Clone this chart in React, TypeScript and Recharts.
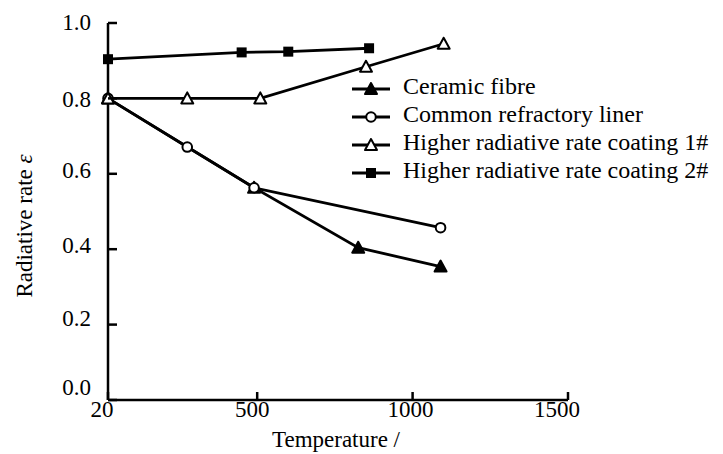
import React from "react";
import { Line, LineChart, XAxis, YAxis } from "recharts";

const FONT = "'Liberation Serif', serif";

// temperature ticks and emissivity ticks
const tempTicks = [20, 500, 1000, 1500];
const rateTicks = [0, 0.2, 0.4, 0.6, 0.8, 1.0];

const ceramicT = [20, 490, 825, 1090];
const ceramicE = [0.8, 0.563, 0.404, 0.354];

const commonT = [20, 275, 490, 1090];
const commonE = [0.8, 0.671, 0.563, 0.457];

const coat1T = [20, 275, 510, 850, 1100];
const coat1E = [0.8, 0.8, 0.8, 0.884, 0.945];

const coat2T = [20, 450, 600, 860];
const coat2E = [0.904, 0.922, 0.924, 0.933];

const seriesNames = [
  "Ceramic fibre",
  "Common refractory liner",
  "Higher radiative rate coating 1#",
  "Higher radiative rate coating 2#",
];

const toRows = (t: number[], e: number[]) => t.map((v, i) => ({ t: v, e: e[i] }));

// scanned-figure label offsets (the originals sit a little off their ticks)
const xTickDx = [-6, -5, -2, -11];
const yTickDy = [-12.5, -6.5, -3.5, -3.5, 1.5, -0.5];

type Shape = "triFilled" | "circleOpen" | "triOpen" | "squareFilled";
const shapes: Shape[] = ["triFilled", "circleOpen", "triOpen", "squareFilled"];

function Marker({ cx, cy, shape }: { cx: number; cy: number; shape: Shape }) {
  if (shape === "circleOpen")
    return <circle cx={cx} cy={cy} r={4.8} fill="#fff" stroke="#000" strokeWidth={2} />;
  if (shape === "squareFilled")
    return <rect x={cx - 5} y={cy - 5} width={10} height={10} fill="#000" />;
  const pts = `${cx - 6},${cy + 5} ${cx + 6},${cy + 5} ${cx},${cy - 6}`;
  return (
    <polygon
      points={pts}
      fill={shape === "triFilled" ? "#000" : "#fff"}
      stroke="#000"
      strokeWidth={2}
      strokeLinejoin="round"
    />
  );
}

const dotFor = (shape: Shape) => (p: any) =>
  <Marker key={`d-${shape}-${p.index}`} cx={p.cx} cy={p.cy} shape={shape} />;

function XTick(props: any) {
  const { x, y, payload, index } = props;
  return (
    <g>
      <line x1={x} x2={x} y1={y} y2={y - 8} stroke="#000" strokeWidth={2.5} />
      <text x={x + (xTickDx[index] ?? 0)} y={y + 17} textAnchor="middle" fontFamily={FONT} fontSize={23} fill="#000">
        {payload.value}
      </text>
    </g>
  );
}

function YTick(props: any) {
  const { x, y, payload, index } = props;
  return (
    <g>
      <line x1={x} x2={x + 9} y1={y} y2={y} stroke="#000" strokeWidth={2.5} />
      <text x={x - 17} y={y + (yTickDy[index] ?? 0) + 7.5} textAnchor="end" fontFamily={FONT} fontSize={23} fill="#000">
        {Number(payload.value).toFixed(1)}
      </text>
    </g>
  );
}

function LegendBox() {
  return (
    <div style={{ position: "absolute", left: 350, top: 75, fontFamily: FONT, fontSize: 24, color: "#000" }}>
      {seriesNames.map((name, i) => (
        <div key={name} style={{ display: "flex", alignItems: "center", height: 28, whiteSpace: "nowrap" }}>
          <svg width={40} height={28} style={{ flex: "none" }}>
            <line x1={2} x2={40} y1={14} y2={14} stroke="#000" strokeWidth={3} />
            <Marker cx={21} cy={14} shape={shapes[i]} />
          </svg>
          <span style={{ marginLeft: 13, position: "relative", top: -3, lineHeight: "28px" }}>{name}</span>
        </div>
      ))}
    </div>
  );
}

export default function App() {
  const lines = [
    toRows(ceramicT, ceramicE),
    toRows(commonT, commonE),
    toRows(coat1T, coat1E),
    toRows(coat2T, coat2E),
  ];
  return (
    <div style={{ position: "fixed", left: 0, top: 0, width: 723, height: 454, background: "#fff" }}>
      <LineChart width={723} height={454} margin={{ top: 23, right: 155, left: 0, bottom: 0 }}>
        <XAxis
          dataKey="t"
          type="number"
          domain={[20, 1500]}
          ticks={tempTicks}
          allowDuplicatedCategory={false}
          height={54}
          tickSize={0}
          tickMargin={0}
          tickLine={false}
          axisLine={{ stroke: "#000", strokeWidth: 2.5 }}
          tick={<XTick />}
          interval={0}
          label={{
            content: () => (
              <text x={336} y={447} textAnchor="middle" fontFamily={FONT} fontSize={23} fill="#000">
                Temperature /
              </text>
            ),
          }}
        />
        <YAxis
          dataKey="e"
          type="number"
          domain={[0, 1]}
          ticks={rateTicks}
          width={108}
          tickSize={0}
          tickMargin={0}
          tickLine={false}
          axisLine={{ stroke: "#000", strokeWidth: 2.5 }}
          tick={<YTick />}
          interval={0}
          label={{
            content: () => (
              <text transform="translate(32,226) rotate(-90)" textAnchor="middle" fontFamily={FONT} fontSize={23} fill="#000">
                Radiative rate <tspan fontStyle="italic">ε</tspan>
              </text>
            ),
          }}
        />
        {lines.map((rows, i) => (
          <Line
            key={seriesNames[i]}
            data={rows}
            dataKey="e"
            name={seriesNames[i]}
            type="linear"
            stroke="#000"
            strokeWidth={2.8}
            dot={dotFor(shapes[i])}
            activeDot={false}
            isAnimationActive={false}
          />
        ))}
      </LineChart>
      <LegendBox />
    </div>
  );
}
